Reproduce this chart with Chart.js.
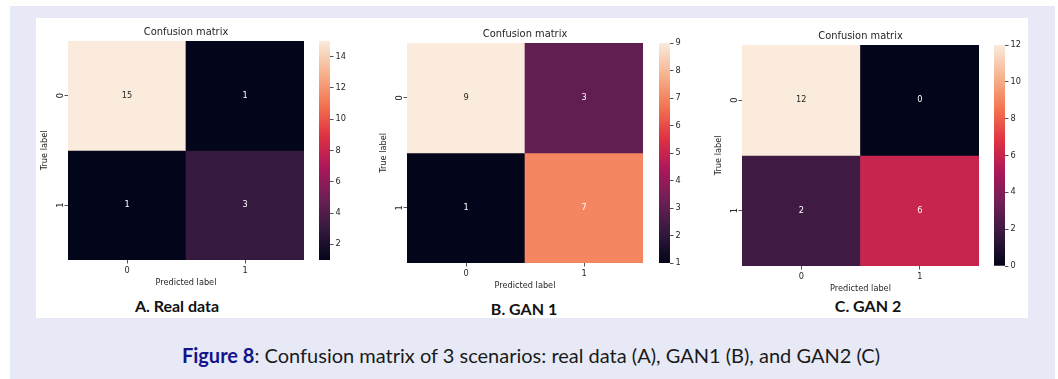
<!DOCTYPE html>
<html>
<head>
<meta charset="utf-8">
<script src="https://cdn.jsdelivr.net/npm/chart.js@4.4.1/dist/chart.umd.min.js"></script>
<style>
html,body{margin:0;padding:0;background:#ffffff;}
body{width:1058px;height:379px;position:relative;overflow:hidden;}
#bg{position:absolute;left:10px;top:6px;width:1045px;height:373px;background:#e7eaf6;}
#panel{position:absolute;left:36px;top:18px;width:992px;height:300px;background:#ffffff;}
canvas{position:absolute;}
.sub{position:absolute;font-family:Lato,"Open Sans",sans-serif;font-weight:700;font-size:16px;line-height:16px;color:#111111;transform:translateX(-50%);white-space:nowrap;}
#cap{position:absolute;left:531px;top:344.5px;transform:translateX(-50%);white-space:nowrap;font-family:Lato,"Open Sans",sans-serif;font-size:20px;line-height:20px;color:#1a1a1a;}
#cap b{color:#14148c;font-weight:700;}
</style>
</head>
<body>
<div id="bg"></div>
<div id="panel"></div>
<div id="cap"><b>Figure 8</b>: Confusion matrix of 3 scenarios: real data (A), GAN1 (B), and GAN2 (C)</div>
<script>
// ---------------- data ----------------
const predictedLabels = ['0', '1'];
const trueLabels = ['0', '1'];
const matrixA = [[15, 1], [1, 3]];
const matrixB = [[9, 3], [1, 7]];
const matrixC = [[12, 0], [2, 6]];
const colorRangeA = [1, 15];
const colorRangeB = [1, 9];
const colorRangeC = [0, 12];
const colorbarTicksA = [2, 4, 6, 8, 10, 12, 14];
const colorbarTicksB = [1, 2, 3, 4, 5, 6, 7, 8, 9];
const colorbarTicksC = [0, 2, 4, 6, 8, 10, 12];
const chartTitle = 'Confusion matrix';
const xAxisTitle = 'Predicted label';
const yAxisTitle = 'True label';
const panelCaptions = ['A. Real data', 'B. GAN 1', 'C. GAN 2'];

// ---------------- colormap (seaborn "rocket") ----------------
const rocketStops = [
  [0.0, [3, 5, 26]],
  [1 / 7, [53, 25, 62]],
  [2 / 7, [112, 31, 87]],
  [3 / 7, [173, 23, 89]],
  [4 / 7, [225, 51, 66]],
  [5 / 7, [243, 118, 81]],
  [6 / 7, [246, 180, 143]],
  [1.0, [250, 235, 221]]
];
function rocket(t) {
  t = Math.max(0, Math.min(1, t));
  for (let i = 1; i < rocketStops.length; i++) {
    const [t1, c1] = rocketStops[i];
    const [t0, c0] = rocketStops[i - 1];
    if (t <= t1) {
      const f = (t - t0) / (t1 - t0);
      return c0.map((v, k) => Math.round(v + (c1[k] - v) * f));
    }
  }
  return rocketStops[rocketStops.length - 1][1];
}
function rgbStr(c) { return 'rgb(' + c[0] + ',' + c[1] + ',' + c[2] + ')'; }
function luminance(c) {
  const lin = c.map(v => { v /= 255; return v <= 0.03928 ? v / 12.92 : Math.pow((v + 0.055) / 1.055, 2.4); });
  return 0.2126 * lin[0] + 0.7152 * lin[1] + 0.0722 * lin[2];
}

// ---------------- layout ----------------
const FONT = '"DejaVu Sans", sans-serif';
const TXT = '#262626';
const TICK_FS = 8.2;
const TITLE_FS = 9.9;
const YAXIS_W = 30, XAXIS_H = 30, TITLE_H = 15, CB_AXIS_W = 30, CB_PAD = 8;
const layoutSpec = [
  { hx: 68, hy: 41, hw: 236, hh: 219, cbx: 319, cbw: 11, capx: 177, capy: 298 },
  { hx: 407, hy: 43, hw: 236, hh: 220, cbx: 659, cbw: 11, capx: 524, capy: 301 },
  { hx: 742, hy: 45, hw: 237, hh: 221, cbx: 994, cbw: 11, capx: 868, capy: 298 }
];
const panels = [
  { matrix: matrixA, range: colorRangeA, cbTicks: colorbarTicksA, caption: panelCaptions[0] },
  { matrix: matrixB, range: colorRangeB, cbTicks: colorbarTicksB, caption: panelCaptions[1] },
  { matrix: matrixC, range: colorRangeC, cbTicks: colorbarTicksC, caption: panelCaptions[2] }
];

const cellTextPlugin = {
  id: 'cellText',
  afterDatasetsDraw(chart) {
    const ctx = chart.ctx;
    ctx.save();
    ctx.font = TICK_FS + 'px ' + FONT;
    ctx.textAlign = 'center';
    ctx.textBaseline = 'middle';
    chart.data.datasets.forEach((ds, di) => {
      const meta = chart.getDatasetMeta(di);
      meta.data.forEach((bar, i) => {
        const col = ds.cellRgb[i];
        ctx.fillStyle = luminance(col) > 0.408 ? TXT : '#ffffff';
        ctx.fillText(String(ds.cellValues[i]), bar.x, (bar.y + bar.base) / 2);
      });
    });
    ctx.restore();
  }
};

function makeCanvas(left, top, w, h) {
  const c = document.createElement('canvas');
  c.width = w; c.height = h;
  c.style.left = left + 'px'; c.style.top = top + 'px';
  c.style.width = w + 'px'; c.style.height = h + 'px';
  document.body.appendChild(c);
  return c;
}

panels.forEach((p, pi) => {
  const L = layoutSpec[pi];
  const [vmin, vmax] = p.range;
  // heatmap
  const hc = makeCanvas(L.hx - YAXIS_W, L.hy - TITLE_H, YAXIS_W + L.hw, TITLE_H + L.hh + XAXIS_H);
  const datasets = trueLabels.map((tl, r) => {
    const rgb = p.matrix[r].map(v => rocket((v - vmin) / (vmax - vmin)));
    return {
      data: predictedLabels.map(() => [r, r + 1]),
      cellValues: p.matrix[r].slice(),
      cellRgb: rgb,
      backgroundColor: rgb.map(rgbStr),
      borderWidth: 0,
      borderSkipped: false,
      barPercentage: 1,
      categoryPercentage: 1,
      grouped: false
    };
  });
  new Chart(hc, {
    type: 'bar',
    data: { labels: predictedLabels, datasets },
    options: {
      responsive: false, animation: false, devicePixelRatio: 1,
      layout: { padding: 0 },
      plugins: {
        legend: { display: false }, tooltip: { enabled: false },
        title: {
          display: true, text: chartTitle, fullSize: false, color: TXT,
          font: { family: FONT, size: TITLE_FS, weight: 'normal', lineHeight: 1.2 },
          padding: { top: 0, bottom: 3 }
        }
      },
      scales: {
        x: {
          type: 'category', offset: true,
          grid: { offset: false, drawOnChartArea: false, drawTicks: true, tickLength: 3.5, tickColor: TXT, tickWidth: 0.8 },
          border: { display: false },
          ticks: { color: TXT, font: { family: FONT, size: TICK_FS }, padding: 2, maxRotation: 0, minRotation: 0 },
          title: { display: true, text: xAxisTitle, color: TXT, font: { family: FONT, size: TICK_FS }, padding: { top: 0, bottom: 2 } },
          afterFit(s) { s.height = XAXIS_H; }
        },
        y: {
          type: 'linear', min: 0, max: trueLabels.length, reverse: true,
          grid: { drawOnChartArea: false, drawTicks: true, tickLength: 3.5, tickColor: TXT, tickWidth: 0.8 },
          border: { display: false },
          afterBuildTicks(s) { s.ticks = trueLabels.map((_, i) => ({ value: i + 0.5 })); },
          ticks: {
            color: TXT, font: { family: FONT, size: TICK_FS }, padding: 1,
            minRotation: 90, maxRotation: 90, crossAlign: 'center',
            callback: (v, i) => trueLabels[i]
          },
          title: { display: true, text: yAxisTitle, color: TXT, font: { family: FONT, size: TICK_FS }, padding: { top: 2, bottom: 0 } },
          afterFit(s) { s.width = YAXIS_W; }
        }
      }
    },
    plugins: [cellTextPlugin]
  });

  // colorbar
  const cc = makeCanvas(L.cbx, L.hy - CB_PAD, L.cbw + CB_AXIS_W, L.hh + 2 * CB_PAD);
  new Chart(cc, {
    type: 'bar',
    data: {
      labels: [''],
      datasets: [{
        data: [[vmin, vmax]],
        barPercentage: 1, categoryPercentage: 1, borderWidth: 0, borderSkipped: false,
        backgroundColor: (ctx) => {
          const area = ctx.chart.chartArea;
          if (!area) return '#000';
          const g = ctx.chart.ctx.createLinearGradient(0, area.bottom, 0, area.top);
          for (let k = 0; k <= 32; k++) g.addColorStop(k / 32, rgbStr(rocket(k / 32)));
          return g;
        }
      }]
    },
    options: {
      responsive: false, animation: false, devicePixelRatio: 1,
      layout: { padding: { top: CB_PAD, bottom: CB_PAD, left: 0, right: 0 } },
      plugins: { legend: { display: false }, tooltip: { enabled: false } },
      scales: {
        x: { display: false, offset: true },
        y: {
          position: 'right', min: vmin, max: vmax,
          grid: { drawOnChartArea: false, drawTicks: true, tickLength: 3.5, tickColor: TXT, tickWidth: 0.8 },
          border: { display: false },
          afterBuildTicks(s) { s.ticks = p.cbTicks.map(v => ({ value: v })); },
          ticks: { color: TXT, font: { family: FONT, size: TICK_FS }, padding: 2, callback: v => String(v) },
          afterFit(s) { s.width = CB_AXIS_W; }
        }
      }
    }
  });

  // caption
  const d = document.createElement('div');
  d.className = 'sub';
  d.textContent = p.caption;
  d.style.left = L.capx + 'px';
  d.style.top = L.capy + 'px';
  document.body.appendChild(d);
});
</script>
</body>
</html>
